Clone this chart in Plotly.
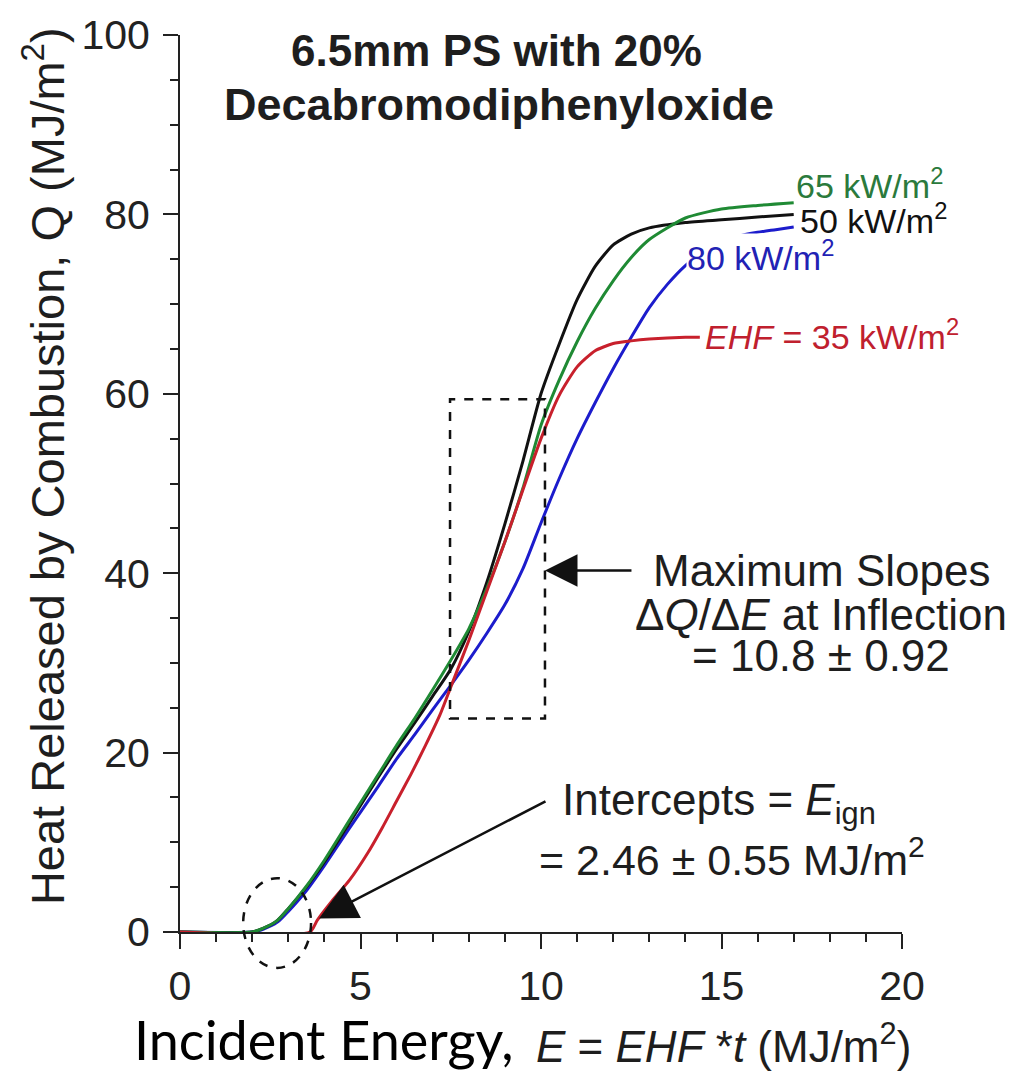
import plotly.graph_objects as go

# ---------------- data ----------------
E_50 = [0, 2.0, 2.3, 2.7, 3.0, 3.5, 4.0, 4.7, 5.5, 6.0, 6.5, 7.0, 7.5, 8.0, 8.5, 9.0, 9.5, 10.0,
        10.5, 11.0, 11.5, 12.0, 12.5, 13.0, 14.0, 15.0, 16.0, 17.0]
Q_50 = [0, 0, 0.4, 1.3, 2.6, 5.0, 7.8, 12.2, 17.3, 20.4, 23.3, 26.3, 29.3, 33.5, 39.0, 45.5, 52.5, 60.0,
        65.5, 70.5, 74.2, 76.6, 77.8, 78.5, 79.1, 79.4, 79.7, 80.0]

E_65 = [0, 2.0, 2.3, 2.7, 3.0, 3.5, 4.0, 4.7, 5.5, 6.0, 6.5, 7.0, 7.5, 8.0, 8.5, 9.0, 9.5, 10.0,
        10.5, 11.0, 11.5, 12.0, 12.5, 13.0, 14.0, 15.0, 16.0, 17.0]
Q_65 = [0, 0, 0.4, 1.3, 2.6, 5.1, 8.0, 12.5, 17.6, 20.8, 23.8, 27.0, 30.3, 33.8, 38.3, 43.5, 49.5, 56.5,
        61.5, 65.8, 69.5, 72.6, 75.2, 77.2, 79.6, 80.6, 81.0, 81.3]

E_80 = [0, 2.0, 2.3, 2.7, 3.0, 3.5, 4.0, 4.7, 5.5, 6.0, 6.5, 7.0, 7.5, 8.0, 8.5, 9.0, 9.5, 10.0,
        10.5, 11.0, 11.5, 12.0, 12.5, 13.0, 13.5, 14.0, 14.5, 15.0, 15.5, 16.0, 16.5, 17.0]
Q_80 = [0, 0, 0.3, 1.1, 2.3, 4.6, 7.4, 11.6, 16.3, 19.3, 22.0, 24.8, 27.5, 30.3, 33.3, 36.5, 40.5, 45.6,
        50.5, 55.0, 59.0, 62.8, 66.3, 69.6, 72.2, 74.3, 75.9, 76.9, 77.6, 78.0, 78.3, 78.6]

E_35 = [0, 3.6, 3.8, 4.2, 4.7, 5.2, 5.6, 6.0, 6.4, 6.8, 7.2, 7.5, 8.0, 8.5, 9.0, 9.5, 10.0,
        10.5, 11.0, 11.5, 12.0, 12.5, 13.0, 14.0, 14.4]
Q_35 = [0, 0, 1.3, 3.4, 5.8, 8.8, 11.6, 14.6, 17.6, 20.8, 24.2, 27.3, 32.5, 38.0, 43.5, 49.3, 55.0,
        59.8, 63.0, 64.8, 65.6, 65.9, 66.1, 66.3, 66.3]

X_TICKS = [0, 5, 10, 15, 20]
Y_TICKS = [0, 20, 40, 60, 80, 100]

# annotation geometry (data units)
BOX = dict(x0=7.48, x1=10.11, y0=23.8, y1=59.4)
ELLIPSE = dict(x0=1.75, x1=3.63, y0=-4.0, y1=6.0)
ARROW_SLOPE_TIP = (10.11, 40.3)
ARROW_IGN_TIP = (3.85, 1.5)

# ---------------- style ----------------
FONT = "Liberation Sans"
TXT = "#1e1e1e"
C_BLACK = "#111111"
C_GREEN = "#1f8a34"
C_BLUE = "#1c1ccc"
C_RED = "#c8202c"
L_GREEN = "#2b7a3c"
L_BLUE = "#2222b4"
L_RED = "#c0202e"

W, H = 1030, 1071
ML, MR, MT, MB = 180, 128, 29, 139
PW, PH = W - ML - MR, H - MT - MB
XR, YR = (0, 20), (0, 100)


def px_x(px):
    return (px - ML) / PW


def px_y(py):
    return (H - MB - py) / PH


fig = go.Figure()
for xs, ys, col in [(E_80, Q_80, C_BLUE), (E_50, Q_50, C_BLACK), (E_65, Q_65, C_GREEN), (E_35, Q_35, C_RED)]:
    fig.add_trace(go.Scatter(x=xs, y=ys, mode="lines",
                             line=dict(color=col, width=3, shape="spline", smoothing=0.6),
                             showlegend=False, hoverinfo="skip"))

shapes = [
    dict(type="rect", xref="x", yref="y", **BOX,
         line=dict(color="#111", width=2.5, dash="dash"), layer="above"),
    dict(type="circle", xref="paper", yref="paper",
         x0=(ELLIPSE["x0"] - XR[0]) / (XR[1] - XR[0]), x1=(ELLIPSE["x1"] - XR[0]) / (XR[1] - XR[0]),
         y0=(ELLIPSE["y0"] - YR[0]) / (YR[1] - YR[0]), y1=(ELLIPSE["y1"] - YR[0]) / (YR[1] - YR[0]),
         line=dict(color="#111", width=2.5, dash="dash"), layer="above"),
]

ann = []


def txt(text, x, y, size, color=TXT, xanchor="center", xref="paper", yref="paper", family=FONT, bg=None, **kw):
    d = dict(text=text, x=x, y=y, xref=xref, yref=yref, showarrow=False, xanchor=xanchor, yanchor="middle",
             font=dict(family=family, size=size, color=color))
    if bg:
        d["bgcolor"] = bg
    d.update(kw)
    ann.append(d)


# title
txt("<b>6.5mm PS with 20%</b>", px_x(496), px_y(45), 44)
txt("<b>Decabromodiphenyloxide</b>", px_x(499), px_y(99), 45)

# curve labels
txt("65 kW/m<sup>2</sup>", px_x(794), px_y(178), 34, color=L_GREEN, xanchor="left")
txt("50 kW/m<sup>2</sup>", px_x(798), px_y(214), 34, color=C_BLACK, xanchor="left")
txt("80 kW/m<sup>2</sup>", px_x(686), px_y(251), 34, color=L_BLUE, xanchor="left", bg="white", borderpad=0)
txt("<i>EHF</i> = 35 kW/m<sup>2</sup>", px_x(703), px_y(330), 34, color=L_RED, xanchor="left")

# slope annotation
txt("Maximum Slopes", px_x(821), px_y(568), 44)
txt("Δ<i>Q</i>/Δ<i>E</i> at Inflection", px_x(821), px_y(612), 44)
txt("= 10.8 ± 0.92", px_x(821), px_y(654), 44)

# intercept annotation
txt("Intercepts = <i>E</i><sub>ign</sub>", px_x(560), px_y(802), 44, xanchor="left")
txt("= 2.46 ± 0.55 MJ/m<sup>2</sup>", px_x(732), px_y(856), 43)

# arrows
ann.append(dict(x=ARROW_SLOPE_TIP[0], y=ARROW_SLOPE_TIP[1], xref="x", yref="y", ax=88, ay=0,
                showarrow=True, arrowhead=2, arrowsize=2.6, arrowwidth=2.5, arrowcolor="#111", text=""))
ann.append(dict(x=ARROW_IGN_TIP[0], y=ARROW_IGN_TIP[1], xref="x", yref="y", ax=228, ay=-118,
                showarrow=True, arrowhead=2, arrowsize=3.0, arrowwidth=2.5, arrowcolor="#111", text=""))

# axis titles
txt("Heat Released by Combustion, Q (MJ/m<sup>2</sup>)", px_x(44), px_y(463), 47, textangle=-90)
txt("Incident Energy,", px_x(132), px_y(1040), 54, xanchor="left", family="Lato", color="#000")
txt("<i>E</i> = <i>EHF</i> *<i>t</i> (MJ/m<sup>2</sup>)", px_x(534), px_y(1044), 44, xanchor="left")

axis_common = dict(showline=True, linecolor="#222", linewidth=2, ticks="outside", ticklen=15, tickwidth=2,
                   tickcolor="#222", showgrid=False, zeroline=False,
                   tickfont=dict(family=FONT, size=41, color="#222"))

fig.update_layout(
    width=W, height=H, margin=dict(l=ML, r=MR, t=MT, b=MB),
    paper_bgcolor="white", plot_bgcolor="white",
    xaxis=dict(range=list(XR), tickvals=X_TICKS, ticklabelstandoff=2,
               minor=dict(dtick=1, ticklen=8, tickwidth=2, tickcolor="#222", ticks="outside"), **axis_common),
    yaxis=dict(range=list(YR), tickvals=Y_TICKS, ticklabelstandoff=5,
               minor=dict(dtick=5, ticklen=8, tickwidth=2, tickcolor="#222", ticks="outside"), **axis_common),
    shapes=shapes, annotations=ann,
)

fig.write_html("out.html", config={"displayModeBar": False},
               post_script="document.body.style.margin='0';document.body.style.overflow='hidden';")
